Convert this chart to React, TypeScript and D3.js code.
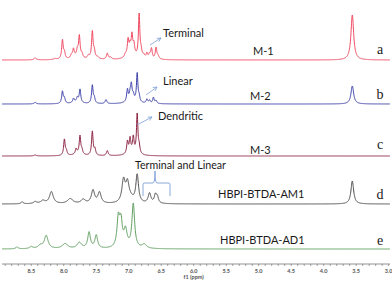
import * as d3 from 'd3';

// peak lists: [shift in ppm, intensity, half width in ppm]
const peaksM1 = [
  [8.44, 2, 0.02], [8.13, 1, 0.03], [8.02, 19, 0.014], [7.99, 6, 0.014],
  [7.88, 3, 0.02], [7.85, 8, 0.014], [7.79, 6, 0.014], [7.76, 21, 0.014],
  [7.72, 4, 0.015], [7.62, 3, 0.02], [7.56, 27, 0.014], [7.53, 7, 0.014],
  [7.48, 2, 0.03], [7.33, 6, 0.016], [7.28, 2, 0.02], [7.05, 3, 0.02],
  [7.01, 16, 0.014], [6.98, 9, 0.014], [6.95, 19, 0.014], [6.92, 10, 0.014],
  [6.84, 43, 0.013], [6.81, 6, 0.014], [6.77, 3, 0.02], [6.72, 5, 0.014],
  [6.68, 4, 0.016], [6.65, 10, 0.014], [6.58, 11, 0.014], [6.55, 3, 0.02],
  [7.8, 3, 0.07], [6.95, 4, 0.09], [3.56, 45, 0.025],
];
const peaksM2 = [
  [8.44, 1.5, 0.02], [8.02, 12, 0.014], [7.99, 5, 0.014], [7.85, 4, 0.014],
  [7.79, 4, 0.014], [7.75, 13, 0.014], [7.56, 18, 0.014], [7.53, 5, 0.014],
  [7.35, 4, 0.016], [7.02, 12, 0.014], [6.98, 6, 0.014], [6.96, 15, 0.014],
  [6.93, 5, 0.014], [6.87, 28, 0.013], [6.84, 5, 0.014], [6.72, 4, 0.014],
  [6.68, 3, 0.014], [6.62, 6, 0.014], [6.58, 3, 0.014], [7.8, 2, 0.07],
  [6.95, 3, 0.09], [3.56, 18, 0.025],
];
const peaksM3 = [
  [8.44, 1, 0.02], [7.99, 16, 0.014], [7.96, 4, 0.014], [7.81, 5, 0.014],
  [7.75, 18, 0.014], [7.72, 4, 0.014], [7.56, 24, 0.014], [7.52, 6, 0.014],
  [7.33, 5, 0.016], [7.02, 12, 0.014], [6.98, 14, 0.014], [6.93, 15, 0.014],
  [6.87, 39, 0.013], [6.84, 7, 0.015], [7.78, 2, 0.07], [6.95, 3, 0.08],
];
const peaksAM1 = [
  [8.64, 2, 0.02], [8.44, 2, 0.03], [8.32, 3, 0.04], [8.19, 12, 0.035],
  [7.9, 5, 0.05], [7.7, 4, 0.04], [7.55, 13, 0.03], [7.45, 11, 0.03],
  [7.08, 22, 0.03], [7.02, 18, 0.03], [6.97, 4, 0.05], [6.87, 28, 0.025],
  [6.68, 10, 0.025], [6.59, 8, 0.02], [6.56, 6, 0.02], [3.56, 23, 0.025],
];
const peaksAD1 = [
  [8.72, 2, 0.02], [8.5, 2, 0.03], [8.36, 3, 0.04], [8.27, 13, 0.035],
  [7.98, 5, 0.05], [7.76, 6, 0.04], [7.61, 16, 0.025], [7.5, 13, 0.025],
  [7.16, 28, 0.025], [7.12, 24, 0.025], [7.05, 17, 0.03], [6.93, 44, 0.025],
  [6.76, 4, 0.04],
];

const sampleNames = ['M-1', 'M-2', 'M-3', 'HBPI-BTDA-AM1', 'HBPI-BTDA-AD1'];
const sampleLetters = ['a', 'b', 'c', 'd', 'e'];
const majorTicks = [8.5, 8.0, 7.5, 7.0, 6.5, 6.0, 5.5, 5.0, 4.5, 4.0, 3.5, 3.0];

const W = 392;
const H = 282;

const x = d3.scaleLinear().domain([8.95, 2.98]).range([2, 390]);
const grid = d3.range(8.95, 2.98, -0.002);

const traces = [
  { peaks: peaksM1, base: 60, color: '#f0475f', nameX: 253, nameY: 55, letterY: 54 },
  { peaks: peaksM2, base: 104, color: '#3b3fa8', nameX: 250, nameY: 100, letterY: 99 },
  { peaks: peaksM3, base: 156, color: '#8c2040', nameX: 250, nameY: 154, letterY: 149 },
  { peaks: peaksAM1, base: 204, color: '#4b4b4b', nameX: 218, nameY: 198, letterY: 199 },
  { peaks: peaksAD1, base: 249, color: '#5e9e5e', nameX: 220, nameY: 244, letterY: 245 },
];

function intensity(peaks: number[][], p: number) {
  let s = 0;
  for (const [c, h, w] of peaks) {
    const u = (p - c) / w;
    s += h / (1 + u * u);
  }
  return s;
}

const arrowColor = '#7d9ed6';

export default function App() {
  const font = 'Lato, "Liberation Sans", sans-serif';
  return (
    <svg width={W} height={H} style={{ display: 'block', position: 'absolute', left: 0, top: 0 }}>
      <defs>
        <marker id="ah" viewBox="0 0 10 10" refX="9" refY="5" markerWidth="6" markerHeight="6" orient="auto">
          <path d="M1,1 L9,5 L1,9" fill="none" stroke={arrowColor} strokeWidth="1.5" />
        </marker>
      </defs>
      <rect width={W} height={H} fill="#fff" />
      {traces.map((t, i) => {
        const line = d3
          .line<number>()
          .x((p) => x(p))
          .y((p) => t.base - intensity(t.peaks, p));
        return (
          <g key={i}>
            <path d={line(grid) || ''} fill="none" stroke={t.color} strokeWidth={1} strokeLinejoin="round" />
            <text x={t.nameX} y={t.nameY} fontFamily={font} fontSize={11} fill="#1a1a1a">
              {sampleNames[i]}
            </text>
            <text x={380} y={t.letterY} fontFamily='"Liberation Serif", serif' fontSize={14} fill="#1a1a1a" textAnchor="middle">
              {sampleLetters[i]}
            </text>
          </g>
        );
      })}
      {/* annotations */}
      <text x={163} y={37} fontFamily={font} fontSize={11} fill="#1a1a1a">Terminal</text>
      <line x1={150} y1={45} x2={161} y2={38} stroke={arrowColor} strokeWidth={0.8} markerEnd="url(#ah)" />
      <text x={163} y={85} fontFamily={font} fontSize={11} fill="#1a1a1a">Linear</text>
      <line x1={146} y1={95} x2={157} y2={87} stroke={arrowColor} strokeWidth={0.8} markerEnd="url(#ah)" />
      <text x={158} y={120} fontFamily={font} fontSize={11} fill="#1a1a1a">Dendritic</text>
      <line x1={137} y1={125} x2={152} y2={117} stroke={arrowColor} strokeWidth={0.8} markerEnd="url(#ah)" />
      <text x={135} y={169} fontFamily={font} fontSize={11} fill="#1a1a1a" textLength={91} lengthAdjust="spacingAndGlyphs">
        Terminal and Linear
      </text>
      <path
        d="M143,196 L143,184 Q143,183 145,183 L153,183 Q155,183 155,171 Q155,183 157,183 L168,183 Q170,183 170,184 L170,196"
        fill="none"
        stroke={arrowColor}
        strokeWidth={0.9}
      />
      {/* axis */}
      <g>
        <line x1={2} x2={390} y1={264} y2={264} stroke="#666" strokeWidth={0.7} />
        {d3.range(89, 29, -1).map((k) => {
          const p = k / 10;
          return <line key={k} x1={x(p)} x2={x(p)} y1={264} y2={266} stroke="#666" strokeWidth={0.6} />;
        })}
        {majorTicks.map((p) => (
          <text key={p} x={x(p)} y={273} fontFamily={font} fontSize={5.5} fontWeight="bold" fill="#555" textAnchor="middle">
            {p.toFixed(1)}
          </text>
        ))}
        <text x={x(6.0)} y={278.5} fontFamily={font} fontSize={5.5} fontWeight="bold" fill="#555" textAnchor="middle">
          f1 (ppm)
        </text>
      </g>
    </svg>
  );
}
